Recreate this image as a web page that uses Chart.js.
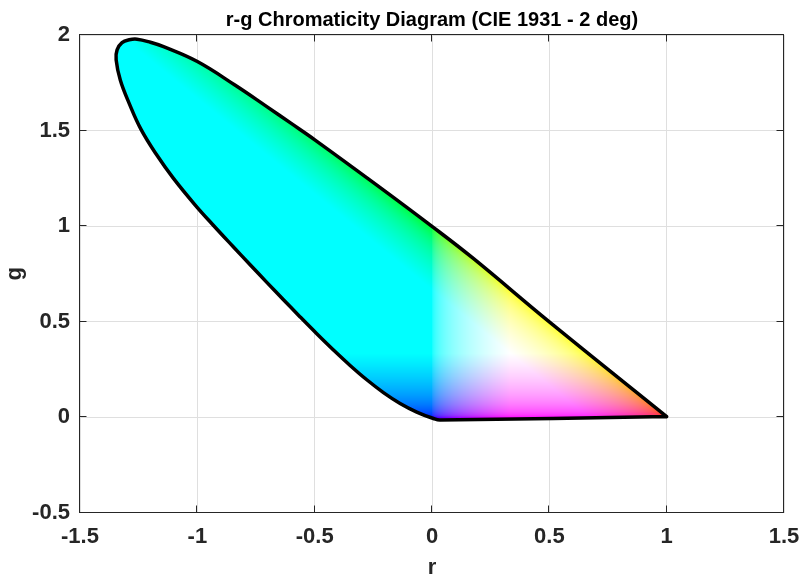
<!DOCTYPE html>
<html>
<head>
<meta charset="utf-8">
<title>r-g Chromaticity Diagram</title>
<script src="https://cdn.jsdelivr.net/npm/chart.js@4"></script>
<style>
  html, body { margin: 0; padding: 0; background: #fff; }
  #wrap { width: 800px; height: 579px; }
</style>
</head>
<body>
<div id="wrap"><canvas id="rgChart" width="800" height="579"></canvas></div>
<script>
// spectral locus outline (r, g), closed at the red end
const locusR = [1.000, 0.034, 0.006, -0.065, -0.136, -0.207, -0.278, -0.349, -0.420, -0.491,
  -0.562, -0.633, -0.704, -0.775, -0.846, -0.935, -1.010, -1.101, -1.172, -1.240,
  -1.290, -1.328, -1.346, -1.342, -1.321, -1.290, -1.257, -1.200, -1.144, -1.000,
  -0.840, -0.704, -0.600, -0.498, -0.235, 0.000, 0.176, 0.500, 1.000];
const locusG = [0.002, -0.016, -0.008, 0.026, 0.071, 0.128, 0.195, 0.270, 0.351, 0.436,
  0.524, 0.614, 0.705, 0.797, 0.890, 1.008, 1.111, 1.248, 1.370, 1.506,
  1.641, 1.763, 1.870, 1.922, 1.960, 1.975, 1.978, 1.962, 1.939, 1.861,
  1.738, 1.625, 1.537, 1.450, 1.214, 0.998, 0.830, 0.498, 0.002];

const xTickLabels = ['-1.5', '-1', '-0.5', '0', '0.5', '1', '1.5'];
const yTickLabels = ['-0.5', '0', '0.5', '1', '1.5', '2'];

const GAIN = 3;          // channel = clip(GAIN * r|g|b)
const GAMMA = 1 / 2.2;
const FONT = "'Liberation Sans', Arial, Helvetica, sans-serif";
const AXIS_COLOR = '#262626';

const locusPoints = locusR.map((r, i) => ({ x: r, y: locusG[i] }));

let colorField = null;
let colorKey = '';

// paints every pixel of the plot area with the colour of its (r, g) value
function getColorField(chart) {
  const area = chart.chartArea;
  if (!area) return 'rgba(0,255,255,1)';
  const key = [area.left, area.top, area.right, area.bottom].join(',');
  if (colorField && key === colorKey) return colorField;

  const w = chart.width, h = chart.height;
  const off = document.createElement('canvas');
  off.width = w;
  off.height = h;
  const octx = off.getContext('2d');
  const img = octx.createImageData(w, h);
  const xs = chart.scales.x, ys = chart.scales.y;
  const chan = v => Math.round(Math.pow(Math.min(Math.max(v * GAIN, 0), 1), GAMMA) * 255);

  for (let py = Math.floor(area.top); py < Math.ceil(area.bottom); py++) {
    const g = ys.getValueForPixel(py + 0.5);
    for (let px = Math.floor(area.left); px < Math.ceil(area.right); px++) {
      const r = xs.getValueForPixel(px + 0.5);
      const b = 1 - r - g;
      const k = (py * w + px) * 4;
      img.data[k] = chan(r);
      img.data[k + 1] = chan(g);
      img.data[k + 2] = chan(b);
      img.data[k + 3] = 255;
    }
  }
  octx.putImageData(img, 0, 0);
  colorField = chart.ctx.createPattern(off, 'no-repeat');
  colorKey = key;
  return colorField;
}

// MATLAB style box with inward tick marks
const axesBox = {
  id: 'axesBox',
  afterDatasetsDraw(chart) {
    const { ctx, chartArea: a, scales: { x, y } } = chart;
    const L = Math.round(a.left) - 0.5, R = Math.round(a.right) - 0.5;
    const T = Math.round(a.top) - 0.5, B = Math.round(a.bottom) - 0.5;
    const len = 7;
    ctx.save();
    ctx.strokeStyle = AXIS_COLOR;
    ctx.lineWidth = 1;
    ctx.beginPath();
    x.ticks.forEach(t => {
      const p = Math.round(x.getPixelForValue(t.value)) - 0.5;
      ctx.moveTo(p, B); ctx.lineTo(p, B - len);
      ctx.moveTo(p, T); ctx.lineTo(p, T + len);
    });
    y.ticks.forEach(t => {
      const p = Math.round(y.getPixelForValue(t.value)) - 0.5;
      ctx.moveTo(L, p); ctx.lineTo(L + len, p);
      ctx.moveTo(R, p); ctx.lineTo(R - len, p);
    });
    ctx.stroke();
    ctx.strokeRect(L, T, R - L, B - T);
    ctx.restore();
  }
};

const ctx = document.getElementById('rgChart').getContext('2d');

new Chart(ctx, {
  type: 'scatter',
  data: {
    datasets: [{
      label: 'spectral locus',
      data: locusPoints,
      showLine: true,
      fill: 'shape',
      backgroundColor: (c) => getColorField(c.chart),
      borderColor: '#000000',
      borderWidth: 3.5,
      borderJoinStyle: 'round',
      borderCapStyle: 'round',
      tension: 0.4,
      pointRadius: 0,
      pointHoverRadius: 0,
      pointBackgroundColor: 'rgba(0,0,0,0)',
      pointBorderColor: 'rgba(0,0,0,0)'
    }]
  },
  options: {
    responsive: false,
    animation: false,
    events: [],
    layout: { padding: { left: 0, right: 16, top: 0, bottom: 0 } },
    plugins: {
      legend: { display: false },
      tooltip: { enabled: false },
      title: {
        display: true,
        text: 'r-g Chromaticity Diagram (CIE 1931 - 2 deg)',
        fullSize: false,
        color: '#000000',
        font: { family: FONT, size: 20, weight: 'bold', lineHeight: 1.2 },
        padding: { top: 8, bottom: 3 }
      }
    },
    scales: {
      x: {
        type: 'linear',
        min: -1.5,
        max: 1.5,
        grid: { color: '#dfdfdf', lineWidth: 1, drawTicks: false },
        border: { display: false },
        ticks: {
          stepSize: 0.5,
          padding: 11,
          color: AXIS_COLOR,
          maxRotation: 0,
          font: { family: FONT, size: 22, weight: 'bold' },
          callback: (v, i) => xTickLabels[i]
        },
        title: {
          display: true,
          text: 'r',
          color: AXIS_COLOR,
          font: { family: FONT, size: 22, weight: 'bold' },
          padding: { top: 0, bottom: -2 }
        },
        afterFit: (s) => { s.height = 66.5; s.paddingLeft = 0; s.paddingRight = 0; }
      },
      y: {
        type: 'linear',
        min: -0.5,
        max: 2,
        grid: { color: '#dfdfdf', lineWidth: 1, drawTicks: false },
        border: { display: false },
        ticks: {
          stepSize: 0.5,
          padding: 10,
          color: AXIS_COLOR,
          font: { family: FONT, size: 22, weight: 'bold' },
          callback: (v, i) => yTickLabels[i]
        },
        title: {
          display: true,
          text: 'g',
          color: AXIS_COLOR,
          font: { family: FONT, size: 22, weight: 'bold' },
          padding: { top: 2, bottom: 0 }
        },
        afterFit: (s) => { s.width = 80; s.paddingTop = 0; s.paddingBottom = 0; }
      }
    }
  },
  plugins: [axesBox]
});
</script>
</body>
</html>
